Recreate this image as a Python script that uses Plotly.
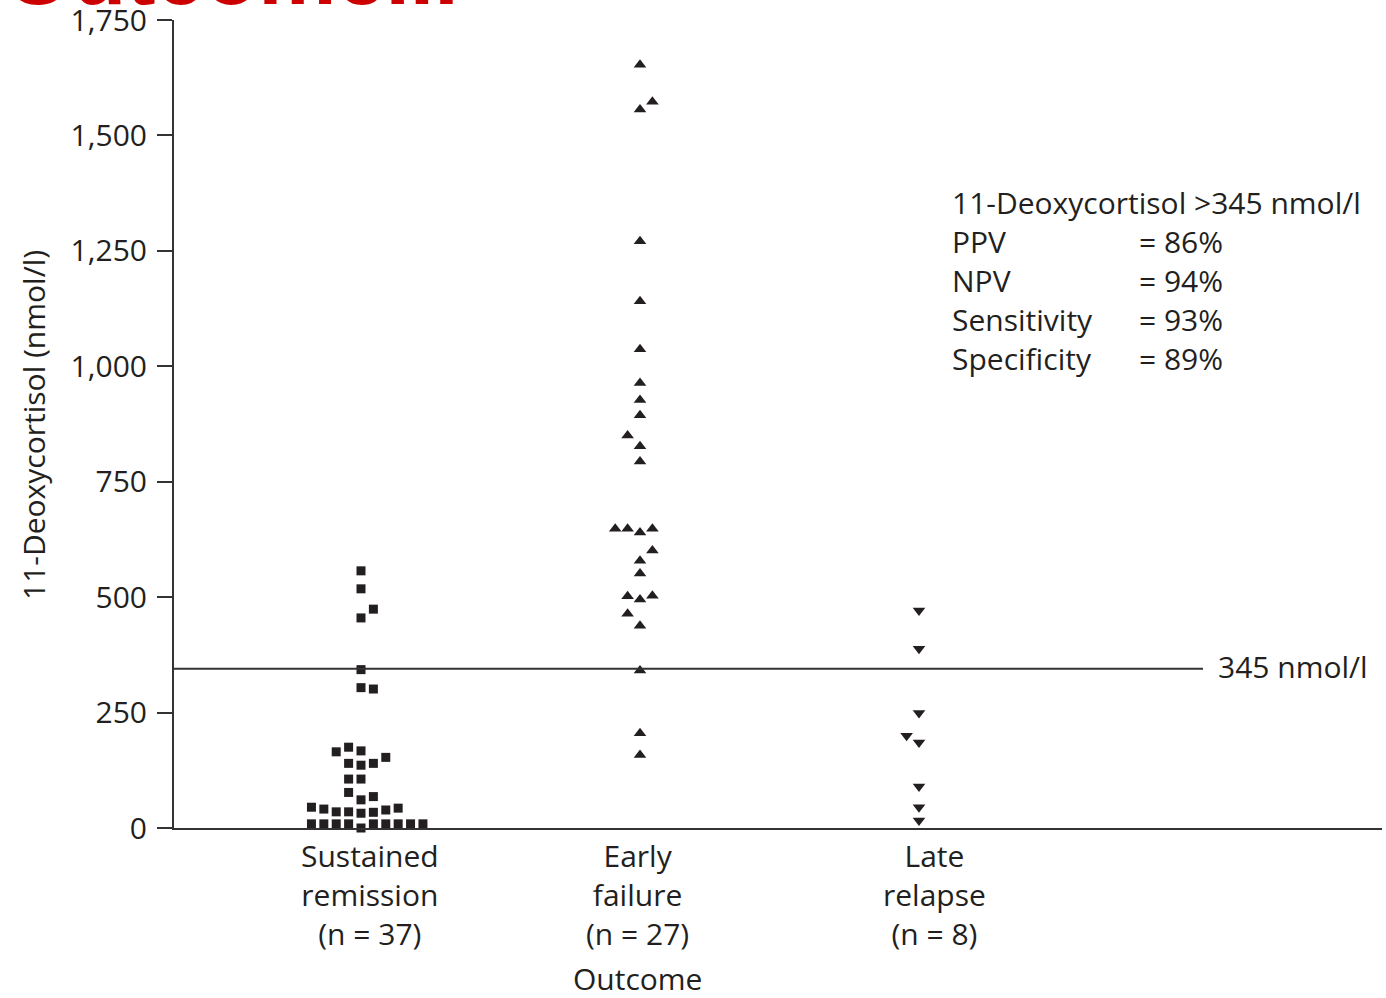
import plotly.graph_objects as go

# ---- data ----
categories = ["Sustained<br>remission<br>(n = 37)", "Early<br>failure<br>(n = 27)", "Late<br>relapse<br>(n = 8)"]

remission_values = [557, 518, 474, 455, 343, 304, 301,
                    165, 175, 167, 140, 136, 140, 153,
                    106, 106, 77, 61, 68,
                    45, 41, 35, 35, 32, 34, 39, 43,
                    9, 9, 9, 9, 0, 9, 9, 9, 9, 9]
remission_slot = [0, 0, 1, 0, 0, 0, 1,
                  -2, -1, 0, -1, 0, 1, 2,
                  -1, 0, -1, 0, 1,
                  -4, -3, -2, -1, 0, 1, 2, 3,
                  -4, -3, -2, -1, 0, 1, 2, 3, 4, 5]

failure_values = [1653, 1573, 1556, 1271, 1141, 1037, 964, 927, 894, 850, 827, 794,
                  648, 648, 640, 648, 601, 579, 551, 502, 495, 503, 464, 438,
                  341, 205, 158]
failure_slot = [0, 1, 0, 0, 0, 0, 0, 0, 0, -1, 0, 0,
                -2, -1, 0, 1, 1, 0, 0, -1, 0, 1, -1, 0,
                0, 0, 0]

relapse_values = [471, 388, 249, 200, 185, 90, 45, 16]
relapse_slot = [0, 0, 0, -1, 0, 0, 0, 0]

y_ticks = [0, 250, 500, 750, 1000, 1250, 1500, 1750]
y_ticktext = ["0", "250", "500", "750", "1,000", "1,250", "1,500", "1,750"]

threshold = 345
stats_labels = ["PPV", "NPV", "Sensitivity", "Specificity"]
stats_values = ["= 86%", "= 94%", "= 93%", "= 89%"]

# ---- styling ----
INK = "#231f20"
FONT = "Open Sans"
FS = 30
SLOT = 0.0444

fig = go.Figure()

def add_group(pos, vals, slots, symbol, size):
    fig.add_trace(go.Scatter(
        x=[pos + s * SLOT for s in slots], y=vals, mode="markers",
        marker=dict(symbol=symbol, size=size, color=INK, line=dict(width=0)),
        cliponaxis=False, showlegend=False, hoverinfo="y"))

add_group(1, remission_values, remission_slot, "square", 9)
add_group(2, failure_values, failure_slot, "triangle-up", 11)
add_group(3, relapse_values, relapse_slot, "triangle-down", 11)

x_range = [1 - 187 / 279, 1 + 1021 / 279]
px_to_x = lambda p: 1 + (p - 361) / 279
py_to_paper = lambda p: (828 - p) / 808

fig.add_shape(type="line", xref="x", yref="y", x0=x_range[0], x1=px_to_x(1203),
              y0=threshold, y1=threshold, line=dict(color="#333333", width=2))

annotations = []
label_x = [px_to_x(370), px_to_x(637), px_to_x(934)]
for lx, txt in zip(label_x, categories):
    annotations.append(dict(x=lx, y=0, xref="x", yref="y", text=txt, showarrow=False,
                            xanchor="center", yanchor="top", yshift=-5,
                            font=dict(family=FONT, size=FS, color=INK), align="center"))
annotations.append(dict(x=px_to_x(637), y=py_to_paper(978), xref="x", yref="paper",
                        text="Outcome", showarrow=False, xanchor="center", yanchor="middle",
                        font=dict(family=FONT, size=FS, color=INK)))
annotations.append(dict(x=(33 - 174) / 1208, y=py_to_paper(425), xref="paper", yref="paper",
                        text="11-Deoxycortisol (nmol/l)", textangle=-90, showarrow=False,
                        xanchor="center", yanchor="middle",
                        font=dict(family=FONT, size=FS, color=INK)))
annotations.append(dict(x=px_to_x(1216), y=py_to_paper(666), xref="x", yref="paper",
                        text="345 nmol/l", showarrow=False, xanchor="left", yanchor="middle",
                        font=dict(family=FONT, size=FS, color=INK)))
# stats box
annotations.append(dict(x=px_to_x(950), y=py_to_paper(203), xref="x", yref="paper",
                        text="11-Deoxycortisol >345 nmol/l", showarrow=False,
                        xanchor="left", yanchor="middle",
                        font=dict(family=FONT, size=FS, color=INK)))
for i, (lab, val) in enumerate(zip(stats_labels, stats_values)):
    yy = py_to_paper(241 + i * 39.3)
    annotations.append(dict(x=px_to_x(950), y=yy, xref="x", yref="paper", text=lab,
                            showarrow=False, xanchor="left", yanchor="middle",
                            font=dict(family=FONT, size=FS, color=INK)))
    annotations.append(dict(x=px_to_x(1137), y=yy, xref="x", yref="paper", text=val,
                            showarrow=False, xanchor="left", yanchor="middle",
                            font=dict(family=FONT, size=FS, color=INK)))
# red slide title cut off at the top edge
annotations.append(dict(x=(2 - 174) / 1208, y=py_to_paper(25), xref="paper", yref="paper",
                        text="<b>Outcome...</b>", showarrow=False,
                        xanchor="left", yanchor="bottom",
                        font=dict(family="Liberation Sans", size=88, color="#cc0000")))

fig.update_layout(
    width=1386, height=998,
    margin=dict(l=174, r=4, t=20, b=170),
    paper_bgcolor="white", plot_bgcolor="white",
    annotations=annotations,
    xaxis=dict(range=x_range, showgrid=False, zeroline=False, showticklabels=False,
               showline=True, linecolor="#333333", linewidth=2, ticks="", automargin=False),
    yaxis=dict(range=[0, 1750], showgrid=False, zeroline=False,
               tickvals=y_ticks, ticktext=y_ticktext, ticks="outside", ticklen=15,
               tickwidth=2, tickcolor="#333333", showline=True, linecolor="#333333",
               linewidth=2, ticklabelstandoff=4, ticklabeloverflow="allow", automargin=False,
               tickfont=dict(family=FONT, size=FS, color=INK)),
)

fig.write_html("out.html")
